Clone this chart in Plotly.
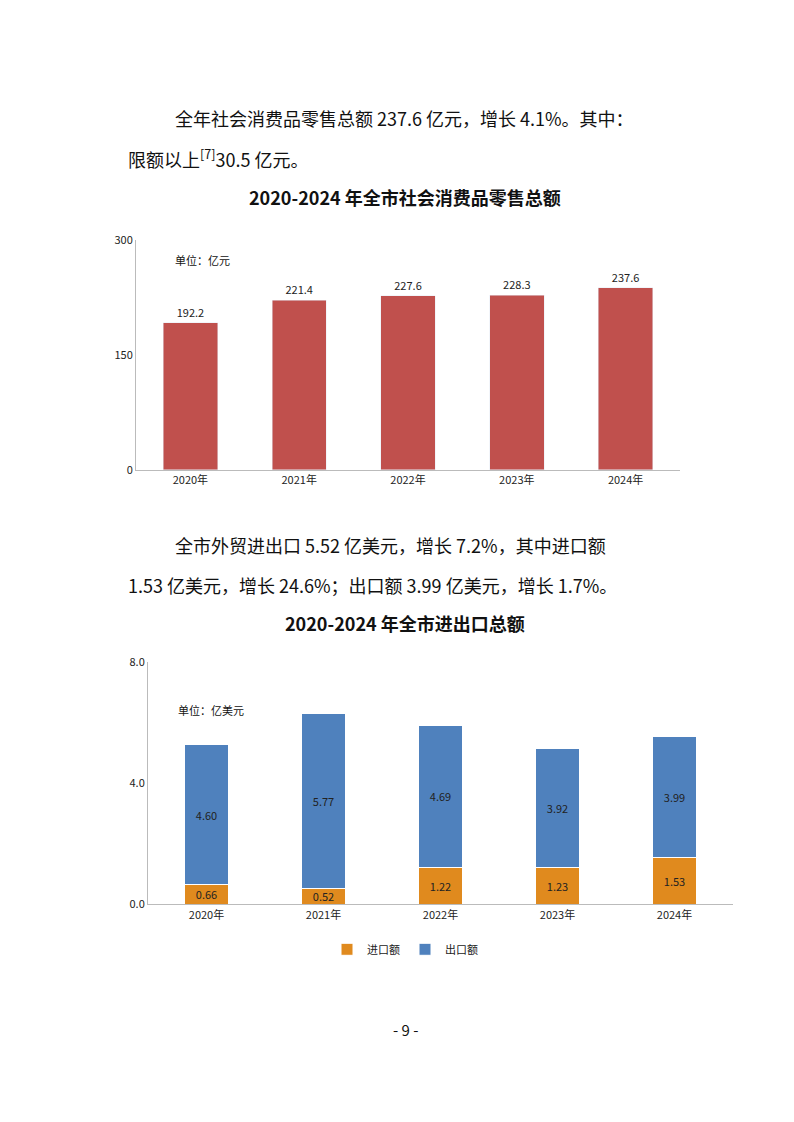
import plotly.graph_objects as go
from plotly.subplots import make_subplots


def affiche():
    # Données
    annees = ["2020年", "2021年", "2022年", "2023年", "2024年"]
    ventes = [192.2, 221.4, 227.6, 228.3, 237.6]
    importations = [0.66, 0.52, 1.22, 1.23, 1.53]
    exportations = [4.60, 5.77, 4.69, 3.92, 3.99]

    W, H = 794, 1122
    police = "Noto Sans CJK SC"

    def py(p):  # pixel -> paper (corrigé du décalage de la page)
        p = (p - 16.5) / 0.987
        return 1 - p / H

    fig = make_subplots(rows=2, cols=1)
    fig.add_trace(go.Bar(x=annees, y=ventes, marker_color="#C0504D", width=0.5,
                         text=[f"{v:.1f}" for v in ventes], textposition="outside",
                         textfont=dict(size=11, color="#222"), showlegend=False,
                         cliponaxis=False), row=1, col=1)
    fig.add_trace(go.Bar(x=annees, y=importations, name="进口额", marker_color="#E08A1E",
                         marker_line=dict(color="white", width=1), width=0.38,
                         text=[f"{v:.2f}" for v in importations], textposition="inside",
                         insidetextanchor="middle", textfont=dict(size=11, color="#222")),
                  row=2, col=1)
    fig.add_trace(go.Bar(x=annees, y=exportations, name="出口额", marker_color="#4F81BD",
                         marker_line=dict(color="white", width=1), width=0.38,
                         text=[f"{v:.2f}" for v in exportations], textposition="inside",
                         insidetextanchor="middle", textfont=dict(size=11, color="#222")),
                  row=2, col=1)

    fig.update_layout(
        width=W, height=H, margin=dict(l=0, r=0, t=0, b=0),
        paper_bgcolor="white", plot_bgcolor="white", barmode="stack",
        uniformtext=dict(minsize=11, mode="show"),
        font=dict(family=police, size=11, color="#222"),
        legend=dict(orientation="h", x=0.5, xanchor="center", y=py(950), yanchor="middle",
                    font=dict(size=11), traceorder="normal", itemwidth=30),
        xaxis=dict(domain=[128 / W, 672 / W], showline=True, linecolor="#bbb",
                   ticks="", tickfont=dict(size=11)),
        yaxis=dict(domain=[py(470), py(240)], range=[0, 300], tickvals=[0, 150, 300],
                   showgrid=False, showline=True, linecolor="#bbb", tickfont=dict(size=11)),
        xaxis2=dict(domain=[140 / W, 725 / W], showline=True, linecolor="#bbb",
                    ticks="", tickfont=dict(size=11)),
        yaxis2=dict(domain=[py(905), py(662)], range=[0, 8], tickvals=[0, 4, 8],
                    tickformat=".1f", showgrid=False, showline=True, linecolor="#bbb",
                    tickfont=dict(size=11)),
    )

    textes = [
        (165, 118, "全年社会消费品零售总额 237.6 亿元，增长 4.1%。其中：", "left", 18, False),
        (118, 158, "限额以上<sup>[7]</sup>30.5 亿元。", "left", 18, False),
        (397, 197, "2020-2024 年全市社会消费品零售总额", "center", 18, True),
        (165, 260, "单位：亿元", "left", 11, False),
        (165, 545, "全市外贸进出口 5.52 亿美元，增长 7.2%，其中进口额", "left", 18, False),
        (118, 585, "1.53 亿美元，增长 24.6%；出口额 3.99 亿美元，增长 1.7%。", "left", 18, False),
        (397, 623, "2020-2024 年全市进出口总额", "center", 18, True),
        (168, 710, "单位：亿美元", "left", 11, False),
        (397, 1030, "- 9 -", "center", 15, False),
    ]
    for x, y, t, ancre, taille, gras in textes:
        fig.add_annotation(x=x / W, y=py(y), xref="paper", yref="paper", xanchor=ancre,
                           yanchor="middle", showarrow=False,
                           text=f"<b>{t}</b>" if gras else t,
                           font=dict(size=taille, family=police, color="#111"))

    fig.write_html("out.html")


if __name__ == "__main__":
    affiche()
